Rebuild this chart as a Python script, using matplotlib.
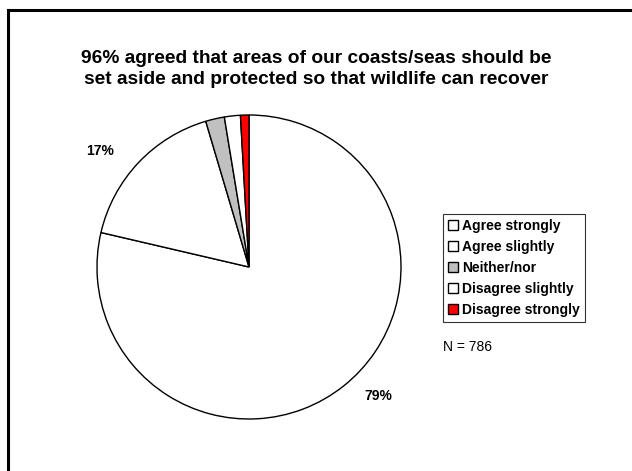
import numpy as np
import matplotlib
matplotlib.use("Agg")
import matplotlib.pyplot as plt
from matplotlib.lines import Line2D

plt.rcParams['font.family'] = ['Liberation Sans', 'DejaVu Sans']

categories = ["Agree strongly", "Agree slightly", "Neither/nor",
              "Disagree slightly", "Disagree strongly"]
shares = [78.8, 16.8, 2.0, 1.7, 0.9]
pct_labels = ["79%", "17%", "", "", ""]
colors = ["#ffffff", "#ffffff", "#c0c0c0", "#ffffff", "#ff0000"]
title = ("96% agreed that areas of our coasts/seas should be\n"
         "set aside and protected so that wildlife can recover")
n_text = "N = 786"

W, H = 632, 471
fig = plt.figure(figsize=(W / 100, H / 100), dpi=100)
fig.patch.set_facecolor("white")

# pie axes: centre ~(249,267) px, radius ~152 px
cx, cy, r = 249, 267, 152
ax = fig.add_axes([(cx - r) / W, (H - cy - r) / H, 2 * r / W, 2 * r / H])
wedges, texts = ax.pie(shares, colors=colors, startangle=90, counterclock=False,
                       labels=pct_labels, labeldistance=1.22,
                       wedgeprops=dict(edgecolor="black", linewidth=1.0),
                       textprops=dict(fontsize=10, fontweight="bold"))
ax.set_aspect("equal")
ax.set_xlim(-1, 1)
ax.set_ylim(-1, 1)

# Excel-like label placement
ang = np.deg2rad(-45)
texts[0].set_position((1.2 * np.cos(ang), 1.2 * np.sin(ang)))
texts[1].set_position((1.24 * np.cos(np.deg2rad(142)), 1.24 * np.sin(np.deg2rad(142))))
for t in texts:
    t.set_ha("center")
    t.set_va("center")

fig.text(316 / W, 1 - 69 / H, title, ha="center", va="center",
         fontsize=13.8, fontweight="bold", linespacing=1.25)

leg = fig.legend(wedges, categories, loc="upper left",
                 bbox_to_anchor=(443 / W, 1 - 214 / H),
                 prop=dict(size=10, weight="bold"), frameon=True,
                 fancybox=False, handlelength=0.75, handleheight=0.75,
                 handletextpad=0.3, labelspacing=0.5, borderpad=0.35,
                 borderaxespad=0)
leg.get_frame().set_edgecolor("black")
leg.get_frame().set_linewidth(0.8)

fig.text(443 / W, 1 - 347 / H, n_text, ha="left", va="center", fontsize=10)

# outer border (top and left visible in the crop)
fig.add_artist(Line2D([8 / W, 8 / W], [0, 1 - 10 / H], color="black", lw=2.2,
                      transform=fig.transFigure))
fig.add_artist(Line2D([8 / W, 1], [1 - 10 / H, 1 - 10 / H], color="black", lw=2.2,
                      transform=fig.transFigure))

fig.savefig("out.png", dpi=100)
